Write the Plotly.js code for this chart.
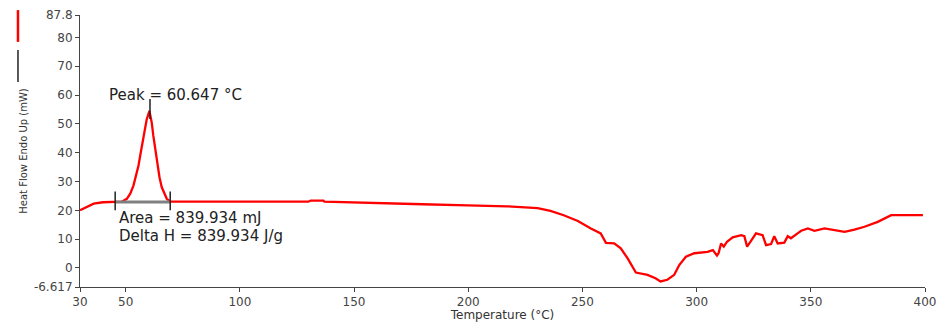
<!DOCTYPE html>
<html>
<head>
<meta charset="utf-8">
<script src="https://cdn.plot.ly/plotly-3.0.1.min.js"></script>
<style>html,body{margin:0;padding:0;background:#fff}#chart{width:943px;height:322px}</style>
</head>
<body>
<div id="chart"></div>
<script>
// Temperature (°C)
const temperature = [30,33,36,40,45,48.3,50.5,52,53.4,54.5,55.6,56.7,57.8,59.2,60.4,61.4,62.1,63,63.9,64.8,65.8,67,68,69.5,80,95.8,130,131,136.6,137,157,180,199.7,217,230.4,236,241.8,248,253.7,258,260.3,263.9,266.8,269.8,273.4,278.5,282,284.2,287.2,290.2,292.4,295.3,299,304.8,307.1,308.9,309.6,310.7,311.9,313.3,315.8,319.5,320.9,322.1,323.6,326,328.9,330.4,332.6,334,335.5,338.4,339.9,341.3,344.2,345.8,348.7,351.6,356,360.4,364.8,369.1,373.5,379.3,385.2,399.1];
// Heat Flow Endo Up (mW)
const heatFlow = [20,21.2,22.3,22.8,23,23,24,25.8,28.6,31.8,35.5,40.5,45.9,51.5,54.5,50.5,45.9,40.5,35.5,31.5,28,25.5,24,23,23,22.9,23,23.4,23.4,23,22.5,22.1,21.7,21.4,20.8,19.8,18.3,16.3,13.7,12,8.7,8.5,6.8,3.3,-1.6,-2.4,-3.6,-4.7,-4.1,-2.4,1.0,3.9,5.1,5.6,6.2,4.3,5.1,8.5,7.4,9.1,10.6,11.4,11,7.4,9.1,12,11.4,7.9,8.3,11,8.5,8.8,11,10.3,12,12.9,13.7,12.9,13.7,13.2,12.5,13.3,14.3,16.0,18.3,18.3];

const xTickVals = [30,50,100,150,200,250,300,350,400];
const yTickVals = [-6.617,0,10,20,30,40,50,60,70,80,87.8];
const yTickText = ["-6.617","0","10","20","30","40","50","60","70","80","87.8"];

const peakTemp = 60.647;
const peakText = "Peak = 60.647 °C";
const areaText = "Area = 839.934 mJ";
const deltaHText = "Delta H = 839.934 J/g";
const baselineStart = 45.4, baselineEnd = 69.5, baselineLevel = 22.9;

const font = "DejaVu Sans, Verdana, sans-serif";

const trace = {
  x: temperature, y: heatFlow, type: "scatter", mode: "lines",
  line: {color: "#ff0000", width: 2.3}, hoverinfo: "skip", showlegend: false
};

const layout = {
  width: 943, height: 322,
  margin: {l: 80, r: 18, t: 15, b: 35},
  paper_bgcolor: "#fff", plot_bgcolor: "#fff",
  font: {family: font, color: "#333", size: 12},
  showlegend: false,
  xaxis: {
    range: [30, 400], tickvals: xTickVals, ticks: "outside", ticklen: 4, tickcolor: "#444",
    showline: true, linecolor: "#444", linewidth: 1, showgrid: false, zeroline: false,
    tickfont: {family: font, size: 12, color: "#444"},
    title: {text: "Temperature (°C)", font: {family: font, size: 12, color: "#333"}, standoff: 5}
  },
  yaxis: {
    range: [-6.617, 87.8], tickvals: yTickVals, ticktext: yTickText, ticks: "outside", ticklen: 4, tickcolor: "#444",
    showline: true, linecolor: "#444", linewidth: 1, showgrid: false, zeroline: false,
    tickfont: {family: font, size: 12, color: "#444"},
    title: {text: "Heat Flow Endo Up (mW)", font: {family: font, size: 10, color: "#333"}, standoff: 4}
  },
  shapes: [
    {type: "line", xref: "x", yref: "y", x0: baselineStart, x1: baselineEnd, y0: baselineLevel, y1: baselineLevel, line: {color: "#808080", width: 3}},
    {type: "line", xref: "x", yref: "y", x0: baselineStart, x1: baselineStart, y0: 20, y1: 26.5, line: {color: "#222", width: 1.5}},
    {type: "line", xref: "x", yref: "y", x0: baselineEnd, x1: baselineEnd, y0: 20, y1: 26.5, line: {color: "#222", width: 1.5}},
    {type: "line", xref: "x", yref: "y", x0: peakTemp, x1: peakTemp, y0: 51.7, y1: 58.6, line: {color: "#222", width: 1.5}},
    {type: "line", xref: "paper", yref: "paper", x0: -0.0734, x1: -0.0734, y0: 1.018, y1: 0.901, line: {color: "#ff0000", width: 2.5}},
    {type: "line", xref: "paper", yref: "paper", x0: -0.0734, x1: -0.0734, y0: 0.871, y1: 0.754, line: {color: "#222", width: 1.5}}
  ],
  annotations: [
    {x: 41.8, y: 60, xref: "x", yref: "y", text: peakText, showarrow: false, xanchor: "left", yanchor: "middle", font: {family: font, size: 15, color: "#222"}},
    {x: 46.2, y: 17.4, xref: "x", yref: "y", text: areaText, showarrow: false, xanchor: "left", yanchor: "middle", font: {family: font, size: 15, color: "#222"}},
    {x: 46.2, y: 11.1, xref: "x", yref: "y", text: deltaHText, showarrow: false, xanchor: "left", yanchor: "middle", font: {family: font, size: 15, color: "#222"}}
  ]
};

Plotly.newPlot("chart", [trace], layout, {displayModeBar: false, staticPlot: true});
</script>
</body>
</html>
